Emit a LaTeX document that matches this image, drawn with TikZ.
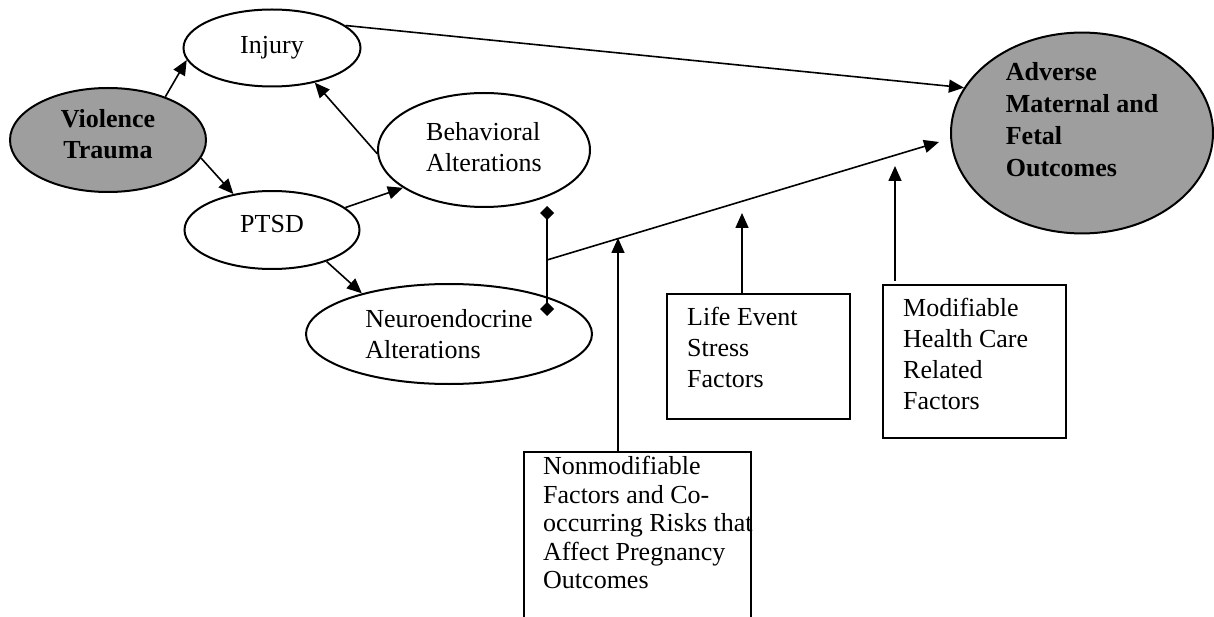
\documentclass[tikz,border=0pt]{standalone}
\usepackage{fontspec}
\setmainfont{Liberation Serif}
\usetikzlibrary{arrows.meta,shapes.geometric,calc}
\definecolor{shadegray}{gray}{0.62}
\begin{document}
\begin{tikzpicture}[x=1pt,y=-1pt,
  txt/.style={font=\fontsize{26}{31}\selectfont, align=left, inner sep=0pt},
  oval/.style={ellipse, draw, line width=2pt, txt},
  dark/.style={oval, fill=shadegray, font=\fontsize{26}{31}\selectfont\bfseries},
  frame/.style={draw, line width=1.8pt, rectangle, inner sep=0pt, anchor=north west},
  arr/.style={line width=1.6pt, -{Triangle[length=15pt,width=13pt]}},
  dia/.style={line width=1.6pt, {Diamond[length=14pt,width=14pt]}-{Diamond[length=14pt,width=14pt]}}
]
\useasboundingbox (0,0) rectangle (1214,617);
\clip (0,0) rectangle (1214,617);

% ellipses
\node[oval, minimum width=177pt, minimum height=77pt] (inj) at (272,48) {Injury};
\node[dark, align=center, minimum width=196pt, minimum height=104pt] (vt) at (108,140) {Violence\\Trauma\rule[-12pt]{0pt}{0pt}};
\node[oval, minimum width=212pt, minimum height=114pt] (beh) at (484,150) {Behavioral\\Alterations\rule[-7pt]{0pt}{0pt}};
\node[oval, minimum width=175pt, minimum height=78pt] (ptsd) at (272,230) {PTSD\rule[-13pt]{0pt}{0pt}};
\node[oval, minimum width=286pt, minimum height=100pt] (neuro) at (449,334) {Neuroendocrine\\Alterations};
\node[dark, minimum width=262pt, minimum height=200pt, font=\fontsize{26}{32}\selectfont\bfseries] (adv) at (1082,133) {Adverse\\Maternal and\\Fetal\\Outcomes\rule[-28pt]{0pt}{0pt}};

% boxes
\node[frame, minimum width=183pt, minimum height=125pt] (life) at (666,293) {};
\node[frame, minimum width=183pt, minimum height=153pt] (mod) at (882,284) {};
\node[frame, minimum width=227pt, minimum height=200pt] (nm) at (523,451) {};
\node[txt, anchor=north west] (lifet) at ($(life.north west)+(21,14)$) {Life Event\\Stress\\Factors};
\node[txt, anchor=north west] (modt) at ($(mod.north west)+(21,14)$) {Modifiable\\Health Care\\Related\\Factors};
\node[txt, anchor=north west, font=\fontsize{26}{28.5}\selectfont] (nmt) at ($(nm.north west)+(20,5)$) {Nonmodifiable\\Factors and Co-\\occurring Risks that\\Affect Pregnancy\\Outcomes};

% connectors
\draw[arr] (vt.37) -- (inj.188);
\draw[arr] (vt.-11) -- (ptsd.137);
\draw[arr] (beh.182) -- (inj.-39);
\draw[arr] (ptsd.17) -- (beh.205);
\draw[arr] (ptsd.-30) -- (neuro.155);
\draw[arr] (inj.17) -- (adv.159);

\coordinate (dtop) at (547,206);
\coordinate (dbot) at (547,316);
\coordinate (br) at (547,260);
\coordinate (brtip) at (939,142);
\draw[dia] (dtop) -- (dbot);
\draw[arr] (br) -- (brtip);

\coordinate (nmtip) at (618,238);
\draw[arr] (nmtip |- nm.north) -- (nmtip);
\coordinate (lifetip) at (742,213);
\draw[arr] (lifetip |- life.north) -- (lifetip);
\coordinate (modtip) at (895,166);
\draw[arr] ($(modtip |- mod.north)+(0,-3)$) -- (modtip);
\end{tikzpicture}
\end{document}
